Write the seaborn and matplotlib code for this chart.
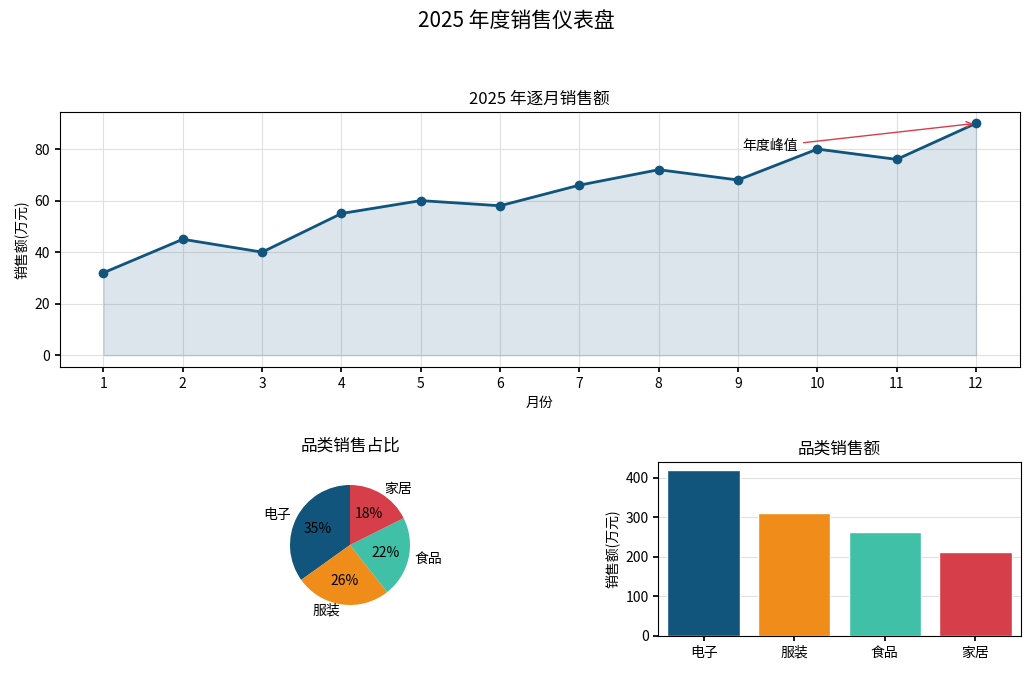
import matplotlib
matplotlib.use("Agg")
import matplotlib.pyplot as plt
import seaborn as sns
import pandas as pd

sns.set_theme(style="whitegrid")
plt.rcParams['font.family'] = ['Noto Sans CJK SC', 'DejaVu Sans']
plt.rcParams['axes.unicode_minus'] = False
plt.rcParams['text.color'] = 'black'
plt.rcParams['axes.labelcolor'] = 'black'
plt.rcParams['xtick.color'] = 'black'
plt.rcParams['ytick.color'] = 'black'

months = [1,2,3,4,5,6,7,8,9,10,11,12]
sales = [32,45,40,55,60,58,66,72,68,80,76,90]
categories = ["电子","服装","食品","家居"]
cat_sales = [420,310,262,212]
colors = ["#12557c","#ef8c1a","#40c1a7","#d63e4a"]

fig = plt.figure(figsize=(10.32,6.73), dpi=100)
ax1 = fig.add_axes([0.058, 0.455, 0.930, 0.379])
ax2 = fig.add_axes([(350-75)/1032, (673-620)/673, 150/1032, 150/673])
ax3 = fig.add_axes([0.638, 0.055, 0.351, 0.259])

for ax in (ax1, ax3):
    ax.set_facecolor("white")
    for s in ax.spines.values():
        s.set_color("black"); s.set_linewidth(0.8)
    ax.grid(True, color="#e0e0e0", linewidth=0.8)
    ax.tick_params(left=True, bottom=True, length=3.5, color="black", labelsize=10)

df = pd.DataFrame({"m": months, "s": sales})
ax1.fill_between(months, sales, color="#12557c", alpha=0.15)
sns.lineplot(data=df, x="m", y="s", ax=ax1, color="#12557c", linewidth=2, marker="o", markersize=7, markeredgewidth=0)
ax1.set_xticks(months)
ax1.set_xlim(0.45, 12.55)
ax1.set_title("2025 年逐月销售额", fontsize=12)
ax1.set_xlabel("月份", fontsize=10)
ax1.set_ylabel("销售额(万元)", fontsize=10)
ax1.annotate("年度峰值", xy=(12, sales[-1]), xytext=(9.75, 81), ha="right", va="center", fontsize=10,
             arrowprops=dict(arrowstyle="->", color="#d63e4a", lw=1))

ax2.pie(cat_sales, labels=categories, colors=colors, autopct="%1.0f%%", startangle=90,
        textprops=dict(fontsize=10, color="black"), wedgeprops=dict(linewidth=0))
ax2.set_title("品类销售占比", fontsize=12, pad=14)

bdf = pd.DataFrame({"c": categories, "v": cat_sales})
sns.barplot(data=bdf, x="c", y="v", hue="c", palette=colors, ax=ax3, legend=False, width=0.8, saturation=1)
ax3.set_title("品类销售额", fontsize=12)
ax3.set_xlabel("")
ax3.set_ylabel("销售额(万元)", fontsize=10)
ax3.grid(axis="x", visible=False)
ax3.set_axisbelow(True)

fig.suptitle("2025 年度销售仪表盘", fontsize=15, y=0.985)
fig.savefig("out.png", dpi=100)
